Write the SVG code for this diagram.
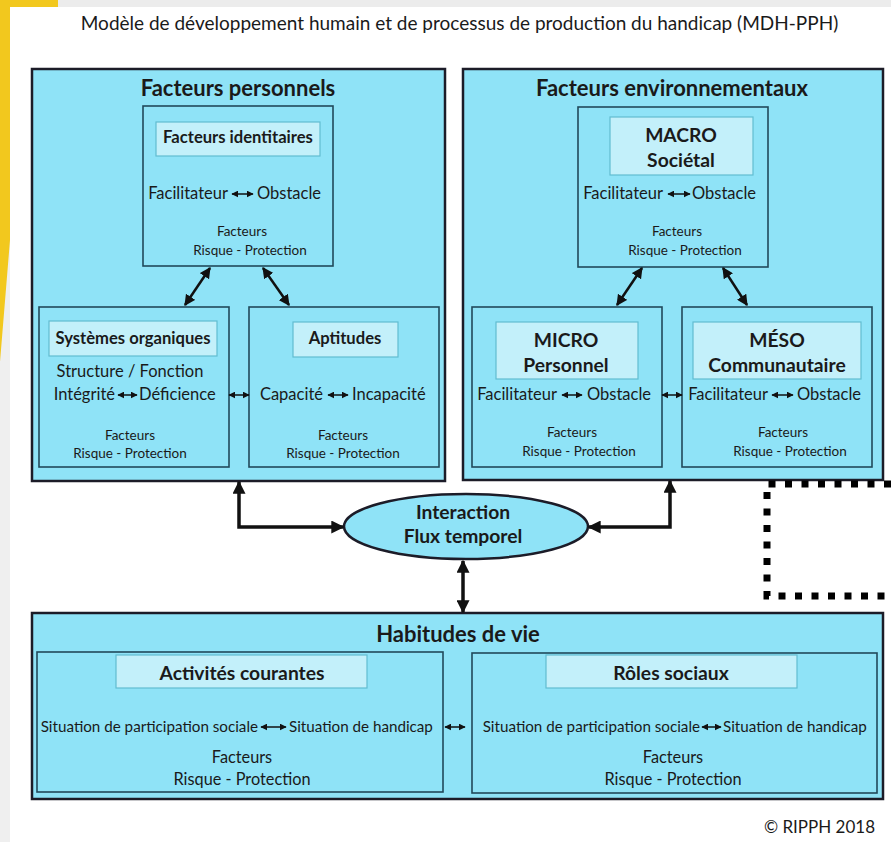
<svg xmlns="http://www.w3.org/2000/svg" width="891" height="842" viewBox="0 0 891 842">
<style>
text{font-family:Lato,"Liberation Sans",sans-serif;fill:#1a1a1a}
.b{font-weight:bold}
.c{text-anchor:middle}
.e{text-anchor:end}
.outer{fill:#8fe3f7;stroke:#1c1c28;stroke-width:2.5}
.inner{fill:#8fe3f7;stroke:#21495a;stroke-width:1.6}
.lab{fill:#c3f0fa;stroke:#62bcd0;stroke-width:1.2}
.t16{font-size:16.5px}
.t13{font-size:13.5px}
.t14{font-size:15.2px}
.t15{font-size:16.3px}
.lb{font-size:16.6px}
.h22{font-size:22px}
.h19{font-size:19.3px}
.thick{fill:none;stroke:#111;stroke-width:3.5;marker-start:url(#big);marker-end:url(#big)}
.diag{fill:none;stroke:#111;stroke-width:2.5;marker-start:url(#mid);marker-end:url(#mid)}
.sm{fill:none;stroke:#111;stroke-width:1.5;marker-start:url(#sma);marker-end:url(#sma)}
</style>
<defs>
<marker id="big" viewBox="0 0 10 10" refX="9" refY="5" markerWidth="13" markerHeight="13" markerUnits="userSpaceOnUse" orient="auto-start-reverse"><path d="M0,0 L10,5 L0,10 z" fill="#111"/></marker>
<marker id="mid" viewBox="0 0 10 10" refX="9" refY="5" markerWidth="11" markerHeight="11" markerUnits="userSpaceOnUse" orient="auto-start-reverse"><path d="M0,0 L10,5 L0,10 z" fill="#111"/></marker>
<marker id="sma" viewBox="0 0 10 10" refX="9" refY="5" markerWidth="7" markerHeight="7" markerUnits="userSpaceOnUse" orient="auto-start-reverse"><path d="M0,0 L10,5 L0,10 z" fill="#111"/></marker>
</defs>
<rect x="0" y="0" width="891" height="842" fill="#ffffff"/>
<rect x="0" y="0" width="10" height="842" fill="#efefef"/>
<rect x="58" y="0" width="833" height="7" fill="#ececec"/>
<polygon points="0,0 58,0 58,7 10,7 10,240 0,362" fill="#f2c81e"/>

<text class="c" x="459.5" y="30" font-size="19">Modèle de développement humain et de processus de production du handicap (MDH-PPH)</text>

<g id="facteurs-personnels">
<rect class="outer" x="32" y="69" width="413" height="412"/>
<text class="b c h22" x="238" y="96">Facteurs personnels</text>
</g>
<g id="facteurs-identitaires">
<rect class="inner" x="143" y="106" width="190" height="160"/>
<rect class="lab" x="156" y="122" width="164" height="34"/>
<text class="b c lb" x="238" y="143">Facteurs identitaires</text>
<text class="e t16" x="228" y="199">Facilitateur</text>
<text class="t16" x="257" y="199">Obstacle</text>
<text class="c t13" x="242" y="236">Facteurs</text>
<text class="c t13" x="250" y="255">Risque - Protection</text>
</g>
<g id="systemes-organiques">
<rect class="inner" x="39" y="307" width="190" height="160"/>
<rect class="lab" x="49" y="321" width="168" height="35"/>
<text class="b c lb" x="133" y="344">Systèmes organiques</text>
<text class="c t16" x="130" y="377">Structure / Fonction</text>
<text class="e t16" x="115" y="400">Intégrité</text>
<text class="t16" x="139" y="400">Déficience</text>
<text class="c t13" x="130" y="440">Facteurs</text>
<text class="c t13" x="130" y="458">Risque - Protection</text>
</g>
<g id="aptitudes">
<rect class="inner" x="249" y="307" width="190" height="160"/>
<rect class="lab" x="293" y="322" width="105" height="35"/>
<text class="b c lb" x="345" y="344">Aptitudes</text>
<text class="e t16" x="323" y="400">Capacité</text>
<text class="t16" x="352" y="400">Incapacité</text>
<text class="c t13" x="343" y="440">Facteurs</text>
<text class="c t13" x="343" y="458">Risque - Protection</text>
</g>

<g id="facteurs-environnementaux">
<rect class="outer" x="463" y="69" width="420" height="411"/>
<text class="b c h22" x="672" y="96">Facteurs environnementaux</text>
</g>
<g id="macro">
<rect class="inner" x="578" y="107" width="190" height="160"/>
<rect class="lab" x="610" y="117" width="143" height="58"/>
<text class="b c h19" x="681" y="142">MACRO</text>
<text class="b c h19" x="681" y="167">Sociétal</text>
<text class="e t16" x="663" y="199">Facilitateur</text>
<text class="t16" x="692" y="199">Obstacle</text>
<text class="c t13" x="677" y="236">Facteurs</text>
<text class="c t13" x="685" y="255">Risque - Protection</text>
</g>
<g id="micro">
<rect class="inner" x="472" y="307" width="190" height="160"/>
<rect class="lab" x="496" y="322" width="142" height="57"/>
<text class="b c h19" x="566" y="347">MICRO</text>
<text class="b c h19" x="566" y="372">Personnel</text>
<text class="e t16" x="557" y="400">Facilitateur</text>
<text class="t16" x="587" y="400">Obstacle</text>
<text class="c t13" x="572" y="437">Facteurs</text>
<text class="c t13" x="579" y="456">Risque - Protection</text>
</g>
<g id="meso">
<rect class="inner" x="682" y="307" width="190" height="160"/>
<rect class="lab" x="693" y="322" width="168" height="57"/>
<text class="b c h19" x="777" y="347">MÉSO</text>
<text class="b c h19" x="777" y="372">Communautaire</text>
<text class="e t16" x="768" y="400">Facilitateur</text>
<text class="t16" x="797" y="400">Obstacle</text>
<text class="c t13" x="783" y="437">Facteurs</text>
<text class="c t13" x="790" y="456">Risque - Protection</text>
</g>

<g id="interaction">
<ellipse cx="466" cy="526.5" rx="122" ry="32.5" fill="#8fe3f7" stroke="#1c1c28" stroke-width="2.5"/>
<text class="b c h19" x="463" y="519">Interaction</text>
<text class="b c h19" x="463" y="543">Flux temporel</text>
</g>

<g id="habitudes-de-vie">
<rect class="outer" x="32" y="613" width="851" height="186"/>
<text class="b c h22" x="458" y="642">Habitudes de vie</text>
</g>
<g id="activites-courantes">
<rect class="inner" x="37" y="652" width="406" height="140"/>
<rect class="lab" x="116" y="655" width="251" height="33"/>
<text class="b c h19" x="242" y="680">Activités courantes</text>
<text class="e t14" x="258" y="732">Situation de participation sociale</text>
<text class="t14" x="289" y="732">Situation de handicap</text>
<text class="c t15" x="242" y="763">Facteurs</text>
<text class="c t15" x="242" y="785">Risque - Protection</text>
</g>
<g id="roles-sociaux">
<rect class="inner" x="472" y="653" width="405" height="140"/>
<rect class="lab" x="546" y="655" width="251" height="33"/>
<text class="b c h19" x="671" y="680">Rôles sociaux</text>
<text class="e t14" x="700" y="732">Situation de participation sociale</text>
<text class="t14" x="723" y="732">Situation de handicap</text>
<text class="c t15" x="673" y="763">Facteurs</text>
<text class="c t15" x="673" y="785">Risque - Protection</text>
</g>

<g id="connectors">
<path class="sm" d="M232,194 H253"/>
<path class="sm" d="M118,395 H137"/>
<path class="sm" d="M328,395 H348"/>
<path class="sm" d="M229,395 H249"/>
<path class="sm" d="M668,194 H690"/>
<path class="sm" d="M562,395 H582"/>
<path class="sm" d="M772,395 H793"/>
<path class="sm" d="M662,395 H682"/>
<path class="sm" d="M261,727 H286"/>
<path class="sm" d="M702,727 H721"/>
<path class="sm" d="M445,727 H465"/>
<path class="diag" d="M210,268 L185,305"/>
<path class="diag" d="M263,268 L289,305"/>
<path class="diag" d="M642,268 L617,305"/>
<path class="diag" d="M723,268 L747,305"/>
<path class="thick" d="M239,482 V527 H343"/>
<path class="thick" d="M670,481 V527 H589"/>
<path class="thick" d="M463,561 V612"/>
<path d="M891,484 H767 V596 H891" fill="none" stroke="#000" stroke-width="7" stroke-dasharray="7 9.5"/>
</g>

<text class="e" x="875" y="833" font-size="17">© RIPPH 2018</text>
</svg>
